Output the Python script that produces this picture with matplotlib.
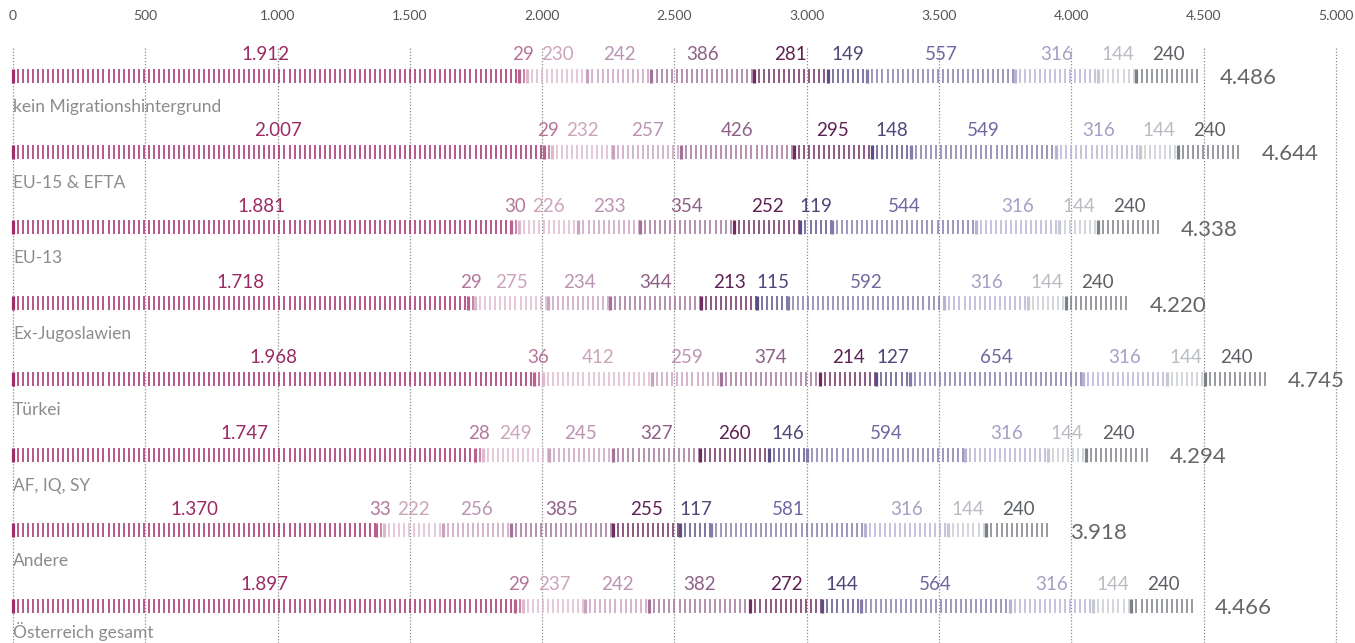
import numpy as np
import matplotlib
matplotlib.use("Agg")
import matplotlib.pyplot as plt

categories = ["kein Migrationshintergrund", "EU-15 & EFTA", "EU-13", "Ex-Jugoslawien",
              "Türkei", "AF, IQ, SY", "Andere", "Österreich gesamt"]

values = [
    [1912, 29, 230, 242, 386, 281, 149, 557, 316, 144, 240],
    [2007, 29, 232, 257, 426, 295, 148, 549, 316, 144, 240],
    [1881, 30, 226, 233, 354, 252, 119, 544, 316, 144, 240],
    [1718, 29, 275, 234, 344, 213, 115, 592, 316, 144, 240],
    [1968, 36, 412, 259, 374, 214, 127, 654, 316, 144, 240],
    [1747, 28, 249, 245, 327, 260, 146, 594, 316, 144, 240],
    [1370, 33, 222, 256, 385, 255, 117, 581, 316, 144, 240],
    [1897, 29, 237, 242, 382, 272, 144, 564, 316, 144, 240],
]

totals = ["4.486", "4.644", "4.338", "4.220", "4.745", "4.294", "3.918", "4.466"]

tick_values = [0, 500, 1000, 1500, 2000, 2500, 3000, 3500, 4000, 4500, 5000]
tick_labels = ["0", "500", "1.000", "1.500", "2.000", "2.500", "3.000", "3.500", "4.000", "4.500", "5.000"]

seg_colors = ["#a02c68", "#b8628f", "#dcb9cd", "#c9a2bf", "#a0739a", "#6d2d60",
              "#5b4f88", "#857aa9", "#b8b2d4", "#c6cad0", "#7b8085"]
text_colors = ["#9a2a63", "#b5769a", "#cda5bb", "#bb94b1", "#8f6087", "#5e2153",
               "#4f4679", "#7067a0", "#a59fc6", "#b9bdc3", "#5c6064"]

FONT = "Lato"

fig = plt.figure(figsize=(13.55, 6.43), dpi=100)
ax = fig.add_axes([0, 0, 1, 1])
pxu = 1323 / 5000.0
ax.set_xlim(-13 / pxu, (1355 - 13) / pxu)
row_px = 75.7
ax.set_ylim((643 - 76) / row_px, -76 / row_px)
ax.axis("off")

# grid lines and tick labels
for tv, tl in zip(tick_values, tick_labels):
    ax.plot([tv, tv], [(48 - 76) / row_px, (643 - 76) / row_px], color="#8a8a8a",
            lw=0.9, ls=(0, (1, 1.5)), zorder=1)
    ax.text(tv, (16 - 76) / row_px, tl, ha="center", va="center", fontsize=10,
            color="#555555", family=FONT)

step = 19.0
half = 7.0 / row_px
n = len(categories)
for i, (cat, vals, tot) in enumerate(zip(categories, values, totals)):
    start = 0
    for j, v in enumerate(vals):
        end = start + v
        xs = np.arange(start, end, step)
        if len(xs) > 0:
            ax.vlines(xs[1:], i - half, i + half, color=seg_colors[j], lw=1.1, zorder=3)
            ax.vlines(xs[:1], i - half, i + half, color=seg_colors[j], lw=2.3, zorder=3)
        ax.text(start + v / 2, i - 21 / row_px, f"{v:,}".replace(",", "."), ha="center",
                va="center", fontsize=13.5, color=text_colors[j], family=FONT)
        start = end
    ax.text(start + 20 / pxu, i + 2.5 / row_px, tot, ha="left", va="center", fontsize=16,
            color="#666666", family=FONT)
    off = 31 if i < n - 1 else 26
    ax.text(0, i + off / row_px, cat, ha="left", va="center", fontsize=12.5,
            color="#8c8c8c", family=FONT)

fig.savefig("out.png", dpi=100)
